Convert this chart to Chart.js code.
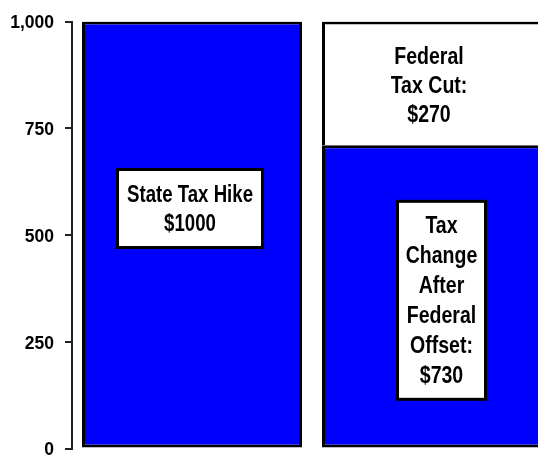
<!DOCTYPE html>
<html>
<head>
<meta charset="utf-8">
<script src="https://cdn.jsdelivr.net/npm/chart.js@4.4.0/dist/chart.umd.min.js"></script>
<style>
  html, body { margin: 0; padding: 0; overflow: hidden; background: #fff; }
  canvas { display: block; }
</style>
</head>
<body>
<canvas id="taxChart" width="552" height="470"></canvas>
<script>
// State tax hike vs. what is left of it after the federal offset
const categories = ['State Tax Hike', 'After Federal Offset'];
const netTaxChange = [1000, 710];   // blue part of each bar
const federalCut = [null, 290];     // white part stacked on the second bar
const yTicks = [0, 250, 500, 750, 1000];

// Notes written over the bars (value = where the note is centred on the y scale)
const notes = [
    { bar: 0, dx: -2, value: 562, w: 148, h: 81, size: 23, sx: 0.81, gap: 29, box: true,
      lines: ['State Tax Hike', '$1000'] },
    { bar: 1, dx: -3, value: 850, size: 23, sx: 0.85, gap: 29, box: false,
      lines: ['Federal', 'Tax Cut:', '$270'] },
    { bar: 1, dx: 9.5, value: 347, w: 91, h: 201, size: 23, sx: 0.85, gap: 30, box: true,
      lines: ['Tax', 'Change', 'After', 'Federal', 'Offset:', '$730'] }
];

const FONT = '"Liberation Sans", Arial, Helvetica, sans-serif';

const notesPlugin = {
    id: 'notes',
    afterDatasetsDraw(chart) {
        const ctx = chart.ctx;
        const yScale = chart.scales.y;
        const bars = chart.getDatasetMeta(0).data;
        notes.forEach(n => {
            const cx = bars[n.bar].x + n.dx;
            const cy = yScale.getPixelForValue(n.value);
            ctx.save();
            if (n.box) {
                // white box with a thick black frame
                ctx.fillStyle = '#000';
                ctx.fillRect(cx - n.w / 2, cy - n.h / 2, n.w, n.h);
                ctx.fillStyle = '#fff';
                ctx.fillRect(cx - n.w / 2 + 3, cy - n.h / 2 + 3, n.w - 6, n.h - 6);
            }
            // the original lettering is condensed
            ctx.translate(cx, cy);
            ctx.scale(n.sx, 1);
            ctx.fillStyle = '#000';
            ctx.font = 'bold ' + n.size + 'px ' + FONT;
            ctx.textAlign = 'center';
            ctx.textBaseline = 'alphabetic';
            n.lines.forEach((line, i) => {
                const ly = (i - (n.lines.length - 1) / 2) * n.gap;
                ctx.fillText(line, 0, ly + 0.344 * n.size);
            });
            ctx.restore();
        });
    }
};

const ctx = document.getElementById('taxChart').getContext('2d');
const chart = new Chart(ctx, {
    type: 'bar',
    data: {
        labels: categories,
        datasets: [{
            label: 'Tax change',
            data: netTaxChange,
            backgroundColor: '#0000FF',
            borderColor: '#000',
            borderWidth: 3,
            borderSkipped: false,
            categoryPercentage: 1,
            barPercentage: 0.9167
        }, {
            label: 'Federal tax cut',
            data: federalCut,
            backgroundColor: '#fff',
            borderColor: '#000',
            borderWidth: 3,
            borderSkipped: 'bottom',
            categoryPercentage: 1,
            barPercentage: 0.9167
        }]
    },
    options: {
        responsive: false,
        animation: false,
        layout: { padding: { top: 20.5, bottom: 20.5, left: 0, right: 0 } },
        plugins: {
            legend: { display: false },
            tooltip: { enabled: false }
        },
        scales: {
            x: { display: false, stacked: true },
            y: {
                stacked: true,
                min: 0,
                max: 1000,
                afterFit: s => { s.width = 72; },
                afterBuildTicks: s => { s.ticks = yTicks.map(v => ({ value: v })); },
                border: { display: true, color: '#222', width: 2 },
                grid: { drawOnChartArea: false, drawTicks: true, tickLength: 7, color: '#222', lineWidth: 2 },
                ticks: {
                    padding: 11,
                    labelOffset: 2,
                    color: '#000',
                    font: { family: FONT, size: 17.5, weight: 'bold' },
                    callback: v => v.toLocaleString('en-US')
                }
            }
        }
    },
    plugins: [notesPlugin]
});
</script>
</body>
</html>
